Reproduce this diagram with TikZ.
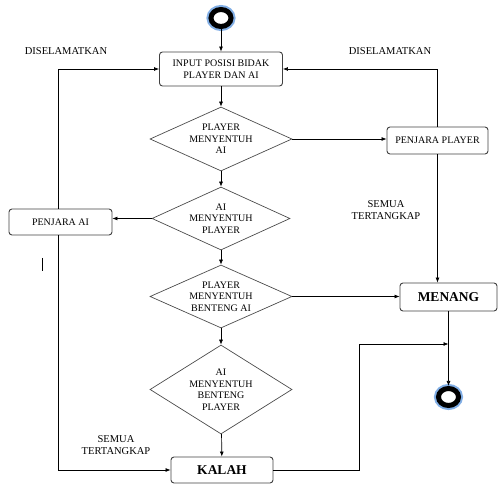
\documentclass[tikz,border=0pt]{standalone}
\usepackage{fontspec}
\setmainfont{Liberation Serif}
\usetikzlibrary{shapes.geometric,arrows.meta}
\definecolor{glow}{RGB}{130,175,230}

\begin{document}
\begin{tikzpicture}[
	x=1pt, y=-1pt,
	>={Latex[length=5pt,width=4pt]},
	box/.style={ draw=black!75, line width=0.9pt, rounded corners=3pt, align=center, inner sep=0pt, font=\fontsize{10}{11.5}\selectfont },
	boxb/.style={ box, font=\fontsize{13.5}{15}\selectfont\bfseries },
	cond/.style={ diamond, draw=black!70, line width=0.7pt, inner sep=0pt, align=center, font=\fontsize{10}{11.5}\selectfont },
	term/.style={ ellipse, draw=black, line width=5pt, fill=white, inner sep=0pt, minimum width=20pt, minimum height=17pt, preaction={draw=glow, line width=9pt} },
	lbl/.style={ align=center, font=\fontsize{10.5}{12}\selectfont },
	flow/.style={ ->, line width=0.7pt }
]
\useasboundingbox (0,0) rectangle (499,486);

\node at (221,18) (start) [term] {};
\node at (221,69) (input) [box, minimum width=123pt, minimum height=34pt] {INPUT POSISI BIDAK\\PLAYER DAN AI};
\node at (221,139) (d1) [cond, aspect=2.2, minimum width=142pt, minimum height=64pt] {PLAYER\\MENYENTUH\\AI};
\node at (221,218.5) (d2) [cond, aspect=2.2, minimum width=138pt, minimum height=63pt] {AI\\MENYENTUH\\PLAYER};
\node at (221,296.5) (d3) [cond, aspect=2.2, minimum width=142pt, minimum height=63pt] {PLAYER\\MENYENTUH\\BENTENG AI};
\node at (221,389.5) (d4) [cond, aspect=1.6, minimum width=142pt, minimum height=89pt] {AI\\MENYENTUH\\BENTENG\\PLAYER};
\node at (222,470) (kalah) [boxb, minimum width=102pt, minimum height=26pt] {KALAH};
\node at (437.5,140.5) (pplayer) [box, minimum width=101pt, minimum height=27pt] {PENJARA PLAYER};
\node at (60.5,222) (pai) [box, minimum width=103pt, minimum height=26pt] {PENJARA AI};
\node at (448.5,297) (menang) [boxb, minimum width=97pt, minimum height=28pt] {MENANG};
\node at (448.5,397) (stop) [term] {};
\coordinate (join) at (448.5,344);

% labels
\node at (66,51) (savel) [lbl] {DISELAMATKAN};
\node at (390,51) (saver) [lbl] {DISELAMATKAN};
\node at (386,210) (allr) [lbl] {SEMUA\\TERTANGKAP};
\node at (116,445) (alll) [lbl] {SEMUA\\TERTANGKAP};
\draw[line width=0.8pt] (42,258) -- (42,271);

% main column
\draw[flow] (start) -- (input);
\draw[flow] (input) -- (d1);
\draw[flow] (d1) -- (d2);
\draw[flow] (d2) -- (d3);
\draw[flow] (d3) -- (d4);
\draw[flow] (d4) -- (kalah);

% player side
\draw[flow] (d1.east) -- (d1.east -| pplayer.west);
\draw[flow] (pplayer.north) |- (input.east);
\draw[flow] (pplayer.south) -- (pplayer.south |- menang.north);
\draw[flow] (d3.east) -- (d3.east -| menang.west);
\draw[flow] (menang) -- (stop);
\draw[flow] (kalah.east) -- ++(86,0) |- (join);

% ai side
\draw[flow] (d2.west) -- (d2.west -| pai.east);
\draw[flow] ([xshift=-2pt]pai.north) |- (input.west);
\draw[flow] ([xshift=-2pt]pai.south) |- (kalah.west);

\end{tikzpicture}
\end{document}
